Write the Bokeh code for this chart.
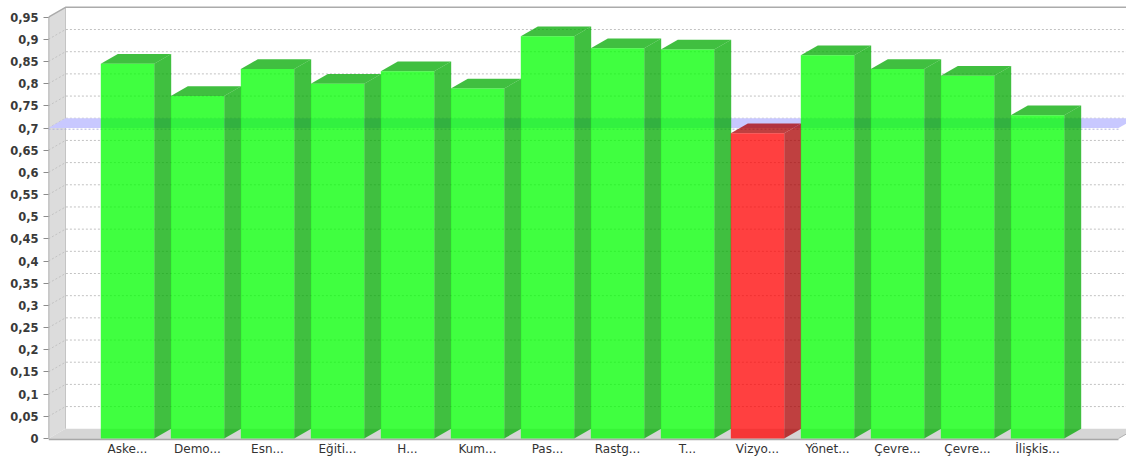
from bokeh.plotting import figure
from bokeh.models import Range1d, FixedTicker
from bokeh.embed import file_html
from bokeh.resources import INLINE

# ---------------- data ----------------
categories = ["Aske...", "Demo...", "Esn...", "Eğiti...", "H...", "Kum...", "Pas...",
              "Rastg...", "T...", "Vizyo...", "Yönet...", "Çevre...", "Çevre...", "İlişkis..."]
values = [0.845, 0.772, 0.833, 0.800, 0.828, 0.789, 0.907,
          0.880, 0.877, 0.688, 0.864, 0.833, 0.818, 0.729]
threshold = 0.7
y_ticks = [0, 0.05, 0.1, 0.15, 0.2, 0.25, 0.3, 0.35, 0.4, 0.45,
           0.5, 0.55, 0.6, 0.65, 0.7, 0.75, 0.8, 0.85, 0.9, 0.95]
y_tick_labels = ["0", "0,05", "0,1", "0,15", "0,2", "0,25", "0,3", "0,35", "0,4", "0,45",
                 "0,5", "0,55", "0,6", "0,65", "0,7", "0,75", "0,8", "0,85", "0,9", "0,95"]

# ---------------- geometry (pixel based) ----------------
W, H = 1126, 458
PX_X = 70.0          # pixels per category
PX_Y = 445.6         # pixels per value unit
C0 = 127.0           # figure-x of first category centre
Y0 = 440.0           # figure-y of value 0
LEFT, TOP, BOTTOM = 48, 0, 442

xmin = (LEFT - C0) / PX_X
xmax = (W - C0) / PX_X
ymax = (Y0 - TOP) / PX_Y
ymin = (Y0 - BOTTOM) / PX_Y

DX = 17.0 / PX_X
DY = 9.8 / PX_Y
HW = 26.7 / PX_X
x_end = (1136 - C0) / PX_X
x_floor_r = (1118 - C0) / PX_X
top_v = y_ticks[-1]

p = figure(width=W, height=H, output_backend="svg", toolbar_location=None,
           x_range=Range1d(xmin, xmax), y_range=Range1d(ymin, ymax),
           min_border_left=LEFT, min_border_right=0, min_border_top=0,
           min_border_bottom=H - BOTTOM)
p.outline_line_color = None
p.xgrid.visible = False
p.ygrid.visible = False
p.background_fill_color = "white"
p.border_fill_color = "white"

# left wall
p.patch([xmin, xmin, xmin + DX, xmin + DX], [0, top_v, top_v + DY, DY],
        fill_color="#dcdcdc", line_color=None)
p.line([xmin + DX, xmin + DX], [DY, top_v + DY], line_color="#c4c4c4", line_width=1)
# floor
p.patch([xmin, x_floor_r, x_floor_r + DX, xmin + DX], [0, 0, DY, DY],
        fill_color="#d6d6d6", line_color=None)
p.line([xmin, x_floor_r], [-1.0 / PX_Y, -1.0 / PX_Y], line_color="#a8a8a8", line_width=2)
p.line([x_floor_r, x_floor_r + DX], [0, DY], line_color="#b0b0b0", line_width=1)

# grid lines (wall diagonal + back wall)
gxs, gys = [], []
for t in y_ticks[1:-1]:
    gxs.append([xmin, xmin + DX, x_end])
    gys.append([t, t + DY, t + DY])
p.multi_line(gxs, gys, line_color="#c2c2c2", line_width=1, line_dash="2 2")
# top border
p.line([xmin, xmin + DX, x_end], [top_v, top_v + DY, top_v + DY], line_color="#ababab", line_width=1.5)
# wall front edge
p.line([xmin, xmin], [0, top_v], line_color="#9a9a9a", line_width=1.5)

# threshold plane
p.patch([xmin, x_floor_r, x_floor_r + DX, xmin + DX],
        [threshold, threshold, threshold + DY, threshold + DY],
        fill_color="#c8c8ff", line_color=None)
p.line([xmin, x_floor_r], [threshold - 1.2 / PX_Y, threshold - 1.2 / PX_Y],
       line_color="#b0b0d8", line_width=1, line_dash="2 2")

# bars
fx, fy, fc, sx, sy, sc = [], [], [], [], [], []
for i, v in enumerate(values):
    ok = v >= threshold
    fx.append([i - HW, i + HW, i + HW, i - HW])
    fy.append([0, 0, v, v])
    fc.append("#00ff00" if ok else "#ff0000")
    dark = "#00aa00" if ok else "#aa0000"
    sx.append([i + HW, i + HW + DX, i + HW + DX, i + HW])
    sy.append([0, DY, v + DY, v])
    sc.append(dark)
    sx.append([i - HW, i + HW, i + HW + DX, i - HW + DX])
    sy.append([v, v, v + DY, v + DY])
    sc.append(dark)
p.patches(sx, sy, fill_color=sc, fill_alpha=0.75, line_color=None)
p.patches(fx, fy, fill_color=fc, fill_alpha=0.75, line_color=None)

# axes
p.yaxis.ticker = FixedTicker(ticks=y_ticks)
p.yaxis.major_label_overrides = dict(zip(y_ticks, y_tick_labels))
p.yaxis.axis_line_color = None
p.yaxis.minor_tick_line_color = None
p.yaxis.major_tick_line_color = "#8c8c8c"
p.yaxis.major_tick_out = 5
p.yaxis.major_tick_in = 0
p.yaxis.major_label_standoff = 5
p.yaxis.major_label_text_font = "DejaVu Sans"
p.yaxis.major_label_text_font_size = "11.5px"
p.yaxis.major_label_text_font_style = "bold"
p.yaxis.major_label_text_color = "#3a3a3a"

p.xaxis.ticker = FixedTicker(ticks=list(range(len(categories))))
p.xaxis.major_label_overrides = {i: c for i, c in enumerate(categories)}
p.xaxis.axis_line_color = None
p.xaxis.minor_tick_line_color = None
p.xaxis.major_tick_line_color = None
p.xaxis.major_tick_out = 0
p.xaxis.major_tick_in = 0
p.xaxis.major_label_standoff = 1
p.xaxis.major_label_text_font = "DejaVu Sans"
p.xaxis.major_label_text_font_size = "12px"
p.xaxis.major_label_text_color = "#333333"

open("out.html", "w").write(file_html(p, INLINE))
